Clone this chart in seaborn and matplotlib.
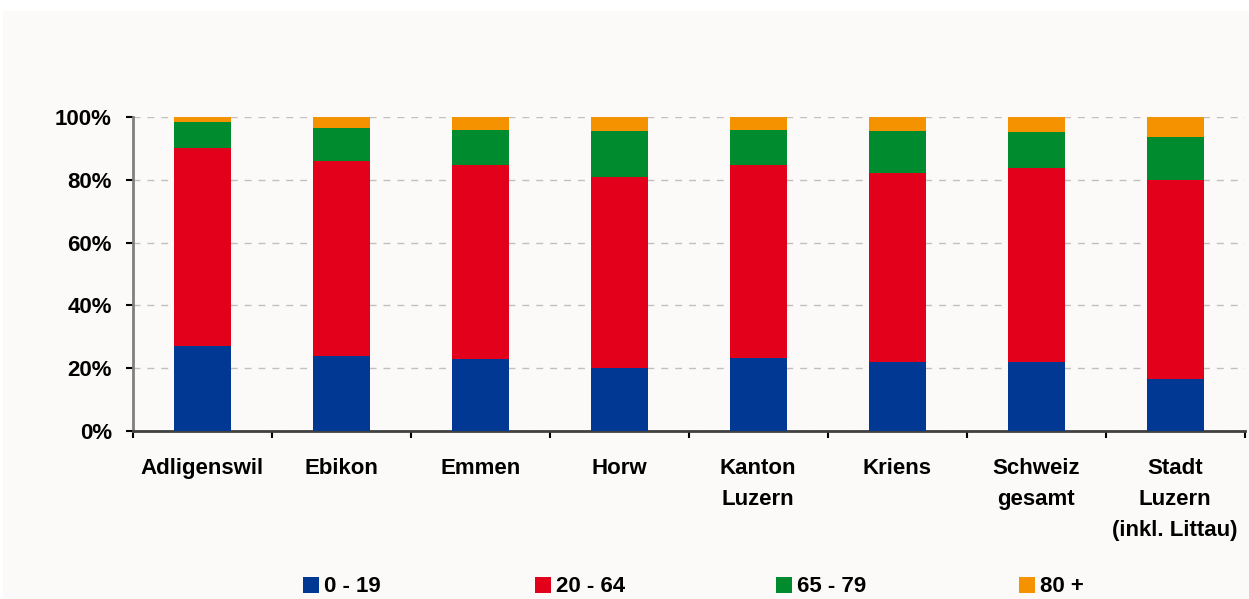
import matplotlib
matplotlib.use("Agg")
import matplotlib.pyplot as plt
from matplotlib.patches import Patch, Rectangle
from matplotlib.ticker import FuncFormatter, FixedLocator
import numpy as np
import pandas as pd
import seaborn as sns

# Age structure by community (share of population, %)
categories = ["Adligenswil", "Ebikon", "Emmen", "Horw", "Kanton\nLuzern",
              "Kriens", "Schweiz\ngesamt", "Stadt\nLuzern\n(inkl. Littau)"]
age_0_19 = [27.2, 24.0, 23.0, 20.2, 23.3, 22.0, 22.0, 16.6]
age_20_64 = [63.0, 62.0, 61.7, 60.7, 61.4, 60.2, 61.9, 63.3]
age_65_79 = [8.2, 10.5, 11.2, 14.6, 11.2, 13.3, 11.3, 13.7]
age_80_plus = [1.6, 3.5, 4.1, 4.5, 4.1, 4.5, 4.8, 6.4]
series_labels = ["0 - 19", "20 - 64", "65 - 79", "80 +"]
series_colors = ["#003893", "#E3001B", "#008C2E", "#F59200"]

sns.set_theme(style="white")
plt.rcParams["font.family"] = ["Liberation Sans", "DejaVu Sans"]
plt.rcParams["font.weight"] = "bold"
plt.rcParams["text.color"] = "black"
plt.rcParams["xtick.color"] = "black"
plt.rcParams["ytick.color"] = "black"

W, H = 1249, 599
fig = plt.figure(figsize=(W / 100, H / 100), dpi=100, facecolor="white")
# chart panel background
fig.patches.append(Rectangle((3 / W, 0), 1 - 3 / W, 1 - 11 / H, transform=fig.transFigure,
                             facecolor="#FBFAF8", edgecolor="none", zorder=-5))

ax_left, ax_right = 132.7 / W, 1244.7 / W
ax_bottom, ax_top = 1 - 431 / H, 1 - 117 / H
ax = fig.add_axes([ax_left, ax_bottom, ax_right - ax_left, ax_top - ax_bottom])
ax.set_facecolor("none")
ax.set_zorder(2)

df = pd.DataFrame({"Gemeinde": categories, "0 - 19": age_0_19, "20 - 64": age_20_64,
                   "65 - 79": age_65_79, "80 +": age_80_plus})
cum = df[series_labels].cumsum(axis=1)
cum["Gemeinde"] = categories

# stacked bars: draw cumulative totals from the top segment down
for lab, col in reversed(list(zip(series_labels, series_colors))):
    sns.barplot(data=cum, x="Gemeinde", y=lab, color=col, width=0.41, saturation=1,
                ax=ax, zorder=3, linewidth=0, edgecolor="none")

ax.set_xlim(-0.5, 7.5)
ax.set_ylim(0, 100)
ax.set_xlabel("")
ax.set_ylabel("")

ax.yaxis.set_major_locator(FixedLocator([0, 20, 40, 60, 80, 100]))
ax.yaxis.set_major_formatter(FuncFormatter(lambda v, p: f"{v:.0f}%"))
ax.grid(axis="y", color="#C0C0C0", linestyle=(0, (5, 5)), linewidth=1, zorder=1)
ax.grid(axis="x", visible=False)
ax.set_axisbelow(True)

ax.set_xticks(range(len(categories)))
ax.set_xticklabels(categories, fontsize=16, fontweight="bold", linespacing=1.62, color="black")
ax.xaxis.set_minor_locator(FixedLocator(np.arange(-0.5, 8, 1.0)))
ax.tick_params(axis="x", which="major", length=0, pad=19.5)
ax.tick_params(axis="x", which="minor", length=5, width=1.5, color="black", direction="out", bottom=True)
ax.tick_params(axis="y", which="major", length=5, width=1.5, color="black", direction="out",
               pad=10, labelsize=16, left=True, labelcolor="black")
for t in ax.get_yticklabels():
    t.set_fontweight("bold")

for s in ["top", "right"]:
    ax.spines[s].set_visible(False)
ax.spines["left"].set_color("#7F7F7F")
ax.spines["left"].set_linewidth(2)
ax.spines["bottom"].set_color("#404040")
ax.spines["bottom"].set_linewidth(2)

# legend entries in fixed slots along the bottom
legend_x = [303, 535, 776, 1019]
for x, lab, col in zip(legend_x, series_labels, series_colors):
    leg = fig.legend(handles=[Patch(facecolor=col, edgecolor="none", label=lab)],
                     loc="center left", bbox_to_anchor=(x / W, 1 - 587 / H),
                     frameon=False, handlelength=0.7, handleheight=0.7, handletextpad=0.25,
                     borderpad=0, borderaxespad=0, prop={"size": 16, "weight": "bold"})
    for t in leg.get_texts():
        t.set_color("black")

fig.savefig("out.png", dpi=100, facecolor="white")
